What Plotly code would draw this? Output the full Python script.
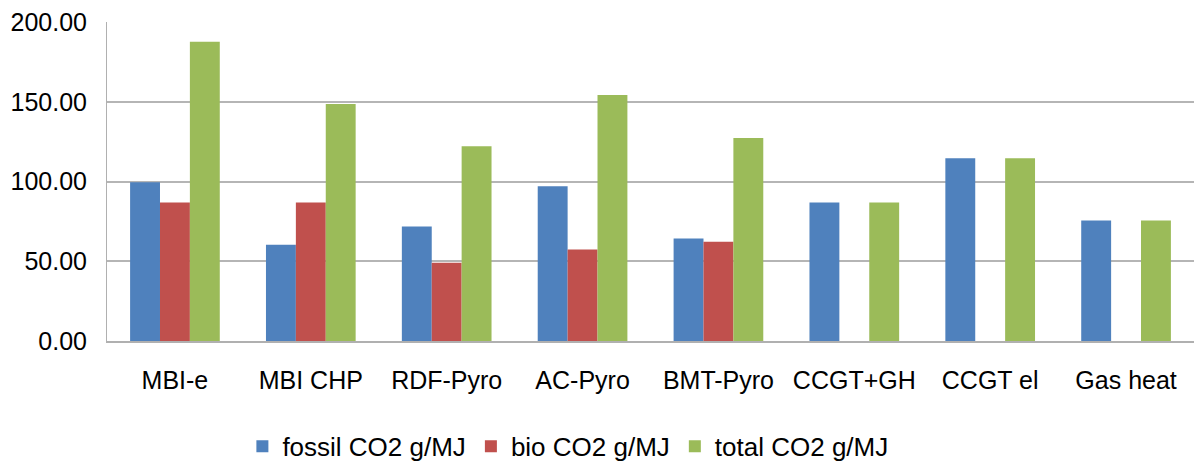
import plotly.graph_objects as go

categories = ["MBI-e", "MBI CHP", "RDF-Pyro", "AC-Pyro", "BMT-Pyro", "CCGT+GH", "CCGT el", "Gas heat"]
fossil = [99.6, 60.4, 71.8, 97.0, 64.2, 86.9, 114.6, 75.6]
bio = [86.9, 86.9, 49.1, 57.3, 62.3, None, None, None]
total = [187.6, 148.6, 122.1, 154.3, 127.2, 86.9, 114.6, 75.6]
series_names = ["fossil CO2 g/MJ", "bio CO2 g/MJ", "total CO2 g/MJ"]
tick_vals = [0, 50, 100, 150, 200]

colors = ["#4F81BD", "#C0504D", "#9BBB59"]
FONT = "Liberation Sans, Arial, sans-serif"

fig = go.Figure()
for name, vals, c in zip(series_names, [fossil, bio, total], colors):
    fig.add_trace(go.Bar(x=categories, y=vals, name=name, marker_color=c,
                         marker_line_width=0))

fig.update_layout(
    width=1194, height=461,
    margin=dict(l=107, r=0, t=22, b=120, autoexpand=False),
    paper_bgcolor="white", plot_bgcolor="white",
    barmode="group", bargap=0.34, bargroupgap=0,
    font=dict(family=FONT, size=25, color="black"),
    showlegend=True,
    legend=dict(orientation="h", x=0.424, xanchor="center", y=-0.33, yanchor="middle",
                font=dict(size=26), itemwidth=30, traceorder="normal"),
)
fig.update_xaxes(showgrid=False, showline=True, linecolor="#b0b0b0", linewidth=2,
                 ticks="", tickfont=dict(size=25), ticklabelstandoff=16)
fig.update_yaxes(range=[0, 200], tickvals=tick_vals, tickformat=".2f",
                 showgrid=True, gridcolor="#b5b5b5", gridwidth=1.5,
                 showline=True, linecolor="#b0b0b0", linewidth=1,
                 zeroline=False, ticks="", tickfont=dict(size=25), ticklabelstandoff=14)

fig.write_html("out.html")
